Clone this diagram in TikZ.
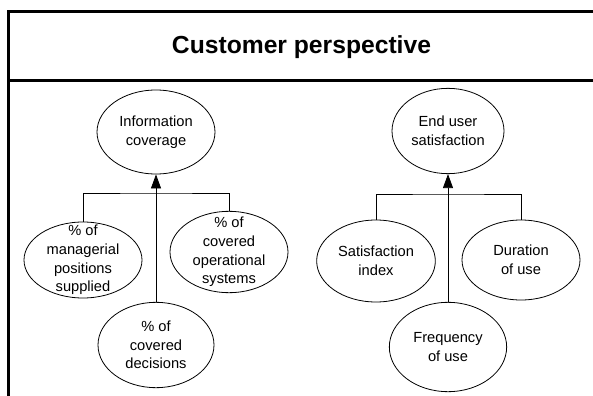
\documentclass[tikz,border=0pt]{standalone}
\usepackage{fontspec}
\setmainfont{Liberation Sans}
\usetikzlibrary{arrows.meta,shapes.geometric}

\begin{document}
\begin{tikzpicture}[x=0.75pt,y=-0.75pt,>={Triangle[length=10.5pt,width=7.5pt]},
    measure/.style={ellipse,draw,line width=0.6pt,inner sep=-10pt,minimum width=88.5pt,
        minimum height=63pt,align=center,font=\fontsize{11}{14}\selectfont},
    frame/.style={line width=2.25pt}]

    \useasboundingbox (0,0) rectangle (593,396);

    \draw[frame] (8.7,396) -- (8.7,11) -- (593,11);
    \draw[frame] (8.7,80.5) -- (593,80.5);
    \node[anchor=base,font=\fontsize{18.5}{22}\bfseries\selectfont] (title) at (301.5,53.3) {Customer perspective};

    \node[measure] (info) at (156,132) {Information\\coverage};
    \node[measure,minimum height=57pt] (mgr) at (83,260) {\% of\\managerial\\positions\\supplied};
    \node[measure,minimum height=61pt] (ops) at (229,252) {\% of\\covered\\operational\\systems};
    \node[measure,minimum width=87pt,minimum height=64pt] (dec) at (156,345) {\% of\\covered\\decisions};

    \node[measure,minimum width=84pt,minimum height=64pt] (eus) at (448,131) {End user\\satisfaction};
    \node[measure,minimum width=89pt,minimum height=61.5pt] (sat) at (376,261) {Satisfaction\\index};
    \node[measure,minimum height=60pt] (dur) at (521,260) {Duration\\of use};
    \node[measure,minimum width=88pt,minimum height=67pt] (freq) at (448,347) {Frequency\\of use};

    \coordinate (infobar) at (156,193);
    \coordinate (eusbar) at (448,194);

    \draw[line width=0.6pt] (mgr.north) |- (infobar) -| (ops.north);
    \draw[line width=0.6pt,->] (dec.north) -- (info.south);
    \draw[line width=0.6pt] (sat.north) |- (eusbar) -| (dur.north);
    \draw[line width=0.6pt,->] (freq.north) -- (eus.south);

\end{tikzpicture}
\end{document}
